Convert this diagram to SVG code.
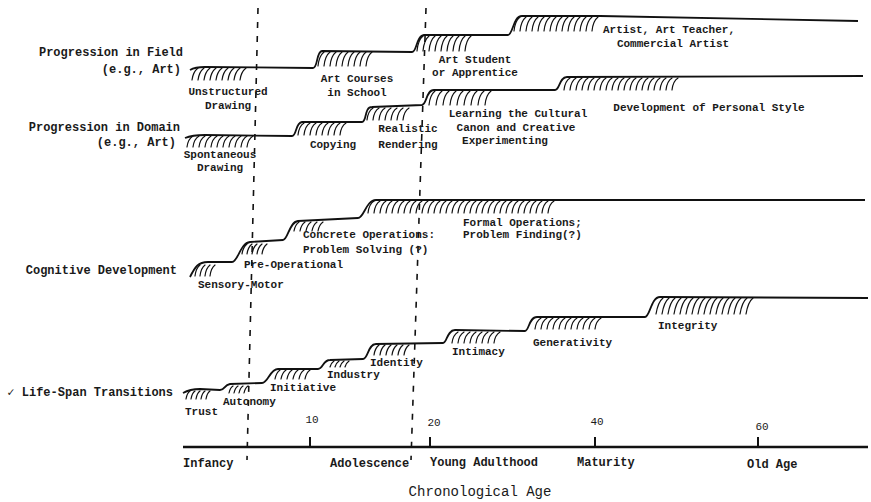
<svg xmlns="http://www.w3.org/2000/svg" width="871" height="502" viewBox="0 0 871 502">
<style>
text{font-family:"Liberation Mono","DejaVu Sans Mono",monospace;font-weight:bold;fill:#1a1a1a}
.row{font-size:12px}
.lab{font-size:11px}
.ax{font-size:12px}
.num{font-size:11px;font-weight:normal}
.title{font-size:14px;font-weight:normal}
.line{fill:none;stroke:#111;stroke-width:1.8;stroke-linejoin:round}
.hatch{fill:none;stroke:#111;stroke-width:1.2;stroke-linecap:round}
.dash{fill:none;stroke:#111;stroke-width:1.6;stroke-dasharray:6 8}
</style>
<rect width="871" height="502" fill="#fff"/>

<g id="dividers">
<line class="dash" x1="258" y1="8" x2="247" y2="460"/>
<line class="dash" x1="426" y1="8" x2="411" y2="460"/>
</g>

<g id="field">
<path class="line" d="M190 70 Q195 67 205 67 L313 68 C318 68 316 52 322 51 L412 52 C417 52 416 36 424 35 L508 35 C513 35 513 16 522 16 L600 16 L858 21"/>
<path class="hatch" d="M198 68q-5 4 -6 12m12 -12q-5 4 -6 12m12 -12q-5 4 -6 12m12 -12q-5 4 -6 12m12 -12q-5 4 -6 12m12 -12q-5 4 -6 12m12 -12q-5 4 -6 12m12 -12q-5 4 -6 12m12 -12q-5 4 -6 12"/>
<path class="hatch" d="M324 52q-5 4 -6 14m12 -14q-5 4 -6 14m12 -14q-5 4 -6 14m12 -14q-5 4 -6 14m12 -14q-5 4 -6 14m12 -14q-5 4 -6 14m12 -14q-5 4 -6 14m12 -14q-5 4 -6 14m12 -14q-5 4 -6 14"/>
<path class="hatch" d="M423 36q-5 4 -6 15m12 -15q-5 4 -6 15m12 -15q-5 4 -6 15m12 -15q-5 4 -6 15m12 -15q-5 4 -6 15m12 -15q-5 4 -6 15m12 -15q-5 4 -6 15m12 -15q-5 4 -6 15m12 -15q-5 4 -6 15"/>
<path class="hatch" d="M520 17q-5 4 -6 14m12 -14q-5 4 -6 14m12 -14q-5 4 -6 14m12 -14q-5 4 -6 14m12 -14q-5 4 -6 14m12 -14q-5 4 -6 14m12 -14q-5 4 -6 14m12 -14q-5 4 -6 14m12 -14q-5 4 -6 14m12 -14q-5 4 -6 14m12 -14q-5 4 -6 14m12 -14q-5 4 -6 14m12 -14q-5 4 -6 14m12 -14q-5 4 -6 14"/>
<text class="row" x="183" y="56" text-anchor="end">Progression in Field</text>
<text class="row" x="181" y="73" text-anchor="end">(e.g., Art)</text>
<text class="lab" x="228" y="95" text-anchor="middle">Unstructured</text>
<text class="lab" x="228" y="109" text-anchor="middle">Drawing</text>
<text class="lab" x="357" y="82" text-anchor="middle">Art Courses</text>
<text class="lab" x="357" y="96" text-anchor="middle">in School</text>
<text class="lab" x="475" y="63" text-anchor="middle">Art Student</text>
<text class="lab" x="475" y="76" text-anchor="middle">or Apprentice</text>
<text class="lab" x="669" y="33" text-anchor="middle">Artist, Art Teacher,</text>
<text class="lab" x="673" y="47" text-anchor="middle">Commercial Artist</text>
</g>

<g id="domain">
<path class="line" d="M185 138 Q192 135 205 135 L292 136 C297 136 295 123 302 122 L362 122 C367 122 364 107 372 107 L422 105 C427 104 426 90 434 90 L555 90 C560 90 559 77 567 77 L863 76"/>
<path class="hatch" d="M193 136q-5 3 -6 11m12 -11q-5 3 -6 11m12 -11q-5 3 -6 11m12 -11q-5 3 -6 11m12 -11q-5 3 -6 11m12 -11q-5 3 -6 11m12 -11q-5 3 -6 11m12 -11q-5 3 -6 11m12 -11q-5 3 -6 11m12 -11q-5 3 -6 11m12 -11q-5 3 -6 11"/>
<path class="hatch" d="M304 123q-5 3 -6 12m12 -12q-5 3 -6 12m12 -12q-5 3 -6 12m12 -12q-5 3 -6 12m12 -12q-5 3 -6 12m12 -12q-5 3 -6 12m12 -12q-5 3 -6 12m12 -12q-5 3 -6 12"/>
<path class="hatch" d="M373 108q-5 3 -6 12m12 -12q-5 3 -6 12m12 -12q-5 3 -6 12m12 -12q-5 3 -6 12m12 -12q-5 3 -6 12m12 -12q-5 3 -6 12m12 -12q-5 3 -6 12"/>
<path class="hatch" d="M435 91q-5 4 -6 14m13 -14q-5 4 -6 14m13 -14q-5 4 -6 14m13 -14q-5 4 -6 14m13 -14q-5 4 -6 14m13 -14q-5 4 -6 14m13 -14q-5 4 -6 14m13 -14q-5 4 -6 14m13 -14q-5 4 -6 14"/>
<path class="hatch" d="M570 78q-5 3 -6 12m12 -12q-5 3 -6 12m12 -12q-5 3 -6 12m12 -12q-5 3 -6 12m12 -12q-5 3 -6 12m12 -12q-5 3 -6 12m12 -12q-5 3 -6 12m12 -12q-5 3 -6 12m12 -12q-5 3 -6 12m12 -12q-5 3 -6 12m12 -12q-5 3 -6 12m12 -12q-5 3 -6 12m12 -12q-5 3 -6 12m12 -12q-5 3 -6 12m12 -12q-5 3 -6 12m12 -12q-5 3 -6 12m12 -12q-5 3 -6 12m12 -12q-5 3 -6 12m12 -12q-5 3 -6 12"/>
<text class="row" x="180" y="131" text-anchor="end">Progression in Domain</text>
<text class="row" x="176" y="146" text-anchor="end">(e.g., Art)</text>
<text class="lab" x="220" y="158" text-anchor="middle">Spontaneous</text>
<text class="lab" x="220" y="171" text-anchor="middle">Drawing</text>
<text class="lab" x="333" y="148" text-anchor="middle">Copying</text>
<text class="lab" x="408" y="132" text-anchor="middle">Realistic</text>
<text class="lab" x="408" y="148" text-anchor="middle">Rendering</text>
<text class="lab" x="518" y="117" text-anchor="middle">Learning the Cultural</text>
<text class="lab" x="516" y="131" text-anchor="middle">Canon and Creative</text>
<text class="lab" x="505" y="144" text-anchor="middle">Experimenting</text>
<text class="lab" x="709" y="111" text-anchor="middle">Development of Personal Style</text>
</g>

<g id="cognitive">
<path class="line" d="M190 277 C195 267 198 262 208 262 L232 262 C238 262 240 243 250 242 L283 240 C288 240 289 222 298 221 L358 218 C364 218 366 200 376 200 L865 200"/>
<path class="hatch" d="M200 265q-4 3 -5 11m10 -11q-4 3 -5 11m10 -11q-4 3 -5 11m10 -11q-4 3 -5 11"/>
<path class="hatch" d="M247 244q-4 3 -5 10m10 -10q-4 3 -5 10m10 -10q-4 3 -5 10m10 -10q-4 3 -5 10m10 -10q-4 3 -5 10"/>
<path class="hatch" d="M299 222q-4 3 -5 9m11 -9q-4 3 -5 9m11 -9q-4 3 -5 9m11 -9q-4 3 -5 9m11 -9q-4 3 -5 9"/>
<path class="hatch" d="M374 201q-5 3 -6 12m12 -12q-5 3 -6 12m12 -12q-5 3 -6 12m12 -12q-5 3 -6 12m12 -12q-5 3 -6 12m12 -12q-5 3 -6 12m12 -12q-5 3 -6 12m12 -12q-5 3 -6 12m12 -12q-5 3 -6 12m12 -12q-5 3 -6 12m12 -12q-5 3 -6 12m12 -12q-5 3 -6 12m12 -12q-5 3 -6 12m12 -12q-5 3 -6 12m12 -12q-5 3 -6 12m12 -12q-5 3 -6 12m12 -12q-5 3 -6 12m12 -12q-5 3 -6 12m12 -12q-5 3 -6 12m12 -12q-5 3 -6 12m12 -12q-5 3 -6 12m12 -12q-5 3 -6 12m12 -12q-5 3 -6 12m12 -12q-5 3 -6 12m12 -12q-5 3 -6 12m12 -12q-5 3 -6 12m12 -12q-5 3 -6 12m12 -12q-5 3 -6 12m12 -12q-5 3 -6 12m12 -12q-5 3 -6 12m12 -12q-5 3 -6 12"/>
<text class="row" x="177" y="274" text-anchor="end">Cognitive Development</text>
<text class="lab" x="198" y="288">Sensory-Motor</text>
<text class="lab" x="244" y="268">Pre-Operational</text>
<text class="lab" x="303" y="238">Concrete Operations:</text>
<text class="lab" x="303" y="253">Problem Solving (?)</text>
<text class="lab" x="463" y="226">Formal Operations;</text>
<text class="lab" x="463" y="238">Problem Finding(?)</text>
</g>

<g id="lifespan">
<path class="line" d="M183 393 Q190 389 200 389 L220 390 C225 390 224 385 230 384 L262 383 C268 383 270 369 278 369 L318 369 C323 369 323 360 330 360 L363 359 C368 359 368 344 376 344 L443 343 C447 343 447 330 455 330 L525 331 C529 331 529 317 537 317 L645 317 C650 317 651 297 660 297 L868 298"/>
<path class="hatch" d="M190 391q-3 2 -4 8m9 -8q-3 2 -4 8m9 -8q-3 2 -4 8m9 -8q-3 2 -4 8m9 -8q-3 2 -4 8"/>
<path class="hatch" d="M233 386q-3 2 -4 7m9 -7q-3 2 -4 7m9 -7q-3 2 -4 7m9 -7q-3 2 -4 7"/>
<path class="hatch" d="M280 370q-4 3 -5 9m11 -9q-4 3 -5 9m11 -9q-4 3 -5 9m11 -9q-4 3 -5 9m11 -9q-4 3 -5 9m11 -9q-4 3 -5 9"/>
<path class="hatch" d="M334 361q-3 2 -4 6m9 -6q-3 2 -4 6m9 -6q-3 2 -4 6m9 -6q-3 2 -4 6"/>
<path class="hatch" d="M379 345q-4 3 -5 10m11 -10q-4 3 -5 10m11 -10q-4 3 -5 10m11 -10q-4 3 -5 10m11 -10q-4 3 -5 10m11 -10q-4 3 -5 10"/>
<path class="hatch" d="M458 332q-5 3 -6 11m12 -11q-5 3 -6 11m12 -11q-5 3 -6 11m12 -11q-5 3 -6 11m12 -11q-5 3 -6 11m12 -11q-5 3 -6 11m12 -11q-5 3 -6 11m12 -11q-5 3 -6 11"/>
<path class="hatch" d="M541 318q-5 3 -6 11m12 -11q-5 3 -6 11m12 -11q-5 3 -6 11m12 -11q-5 3 -6 11m12 -11q-5 3 -6 11m12 -11q-5 3 -6 11m12 -11q-5 3 -6 11m12 -11q-5 3 -6 11m12 -11q-5 3 -6 11m12 -11q-5 3 -6 11m12 -11q-5 3 -6 11"/>
<path class="hatch" d="M663 298q-5 4 -7 16m13 -16q-5 4 -7 16m13 -16q-5 4 -7 16m13 -16q-5 4 -7 16m13 -16q-5 4 -7 16m13 -16q-5 4 -7 16m13 -16q-5 4 -7 16m13 -16q-5 4 -7 16m13 -16q-5 4 -7 16m13 -16q-5 4 -7 16m13 -16q-5 4 -7 16m13 -16q-5 4 -7 16m13 -16q-5 4 -7 16m13 -16q-5 4 -7 16m13 -16q-5 4 -7 16m13 -16q-5 4 -7 16"/>
<text class="row" x="173" y="396" text-anchor="end">✓ Life-Span Transitions</text>
<text class="lab" x="185" y="415">Trust</text>
<text class="lab" x="223" y="405">Autonomy</text>
<text class="lab" x="270" y="391">Initiative</text>
<text class="lab" x="327" y="378">Industry</text>
<text class="lab" x="370" y="366">Identity</text>
<text class="lab" x="452" y="355">Intimacy</text>
<text class="lab" x="533" y="346">Generativity</text>
<text class="lab" x="658" y="329">Integrity</text>
</g>

<g id="axis">
<line x1="183" y1="447" x2="868" y2="447" stroke="#111" stroke-width="2.5"/>
<g stroke="#111" stroke-width="2">
<line x1="310" y1="437" x2="310" y2="447"/>
<line x1="430" y1="437" x2="430" y2="447"/>
<line x1="595" y1="437" x2="595" y2="447"/>
<line x1="758" y1="437" x2="758" y2="447"/>
</g>
<text class="num" x="312" y="423" text-anchor="middle">10</text>
<text class="num" x="434" y="426" text-anchor="middle">20</text>
<text class="num" x="597" y="425" text-anchor="middle">40</text>
<text class="num" x="762" y="430" text-anchor="middle">60</text>
<text class="ax" x="183" y="467">Infancy</text>
<text class="ax" x="330" y="467">Adolescence</text>
<text class="ax" x="430" y="466">Young Adulthood</text>
<text class="ax" x="577" y="466">Maturity</text>
<text class="ax" x="747" y="468">Old Age</text>
<text class="title" x="480" y="496" text-anchor="middle">Chronological Age</text>
</g>
</svg>
